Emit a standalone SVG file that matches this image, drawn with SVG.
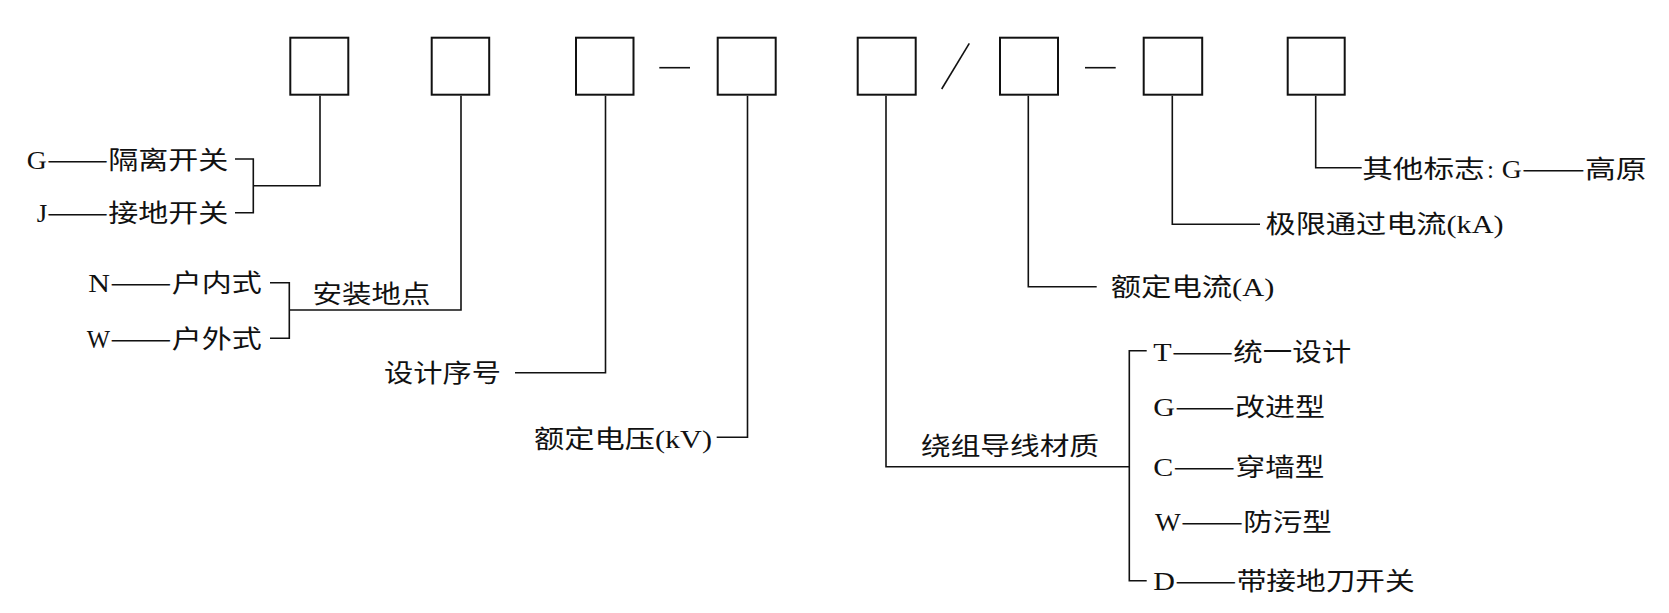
<svg xmlns="http://www.w3.org/2000/svg" width="1669" height="613" viewBox="0 0 1669 613">
<style>
.bg{fill:#ffffff}
.box{fill:#ffffff;stroke:#111;stroke-width:2}
.ln{fill:none;stroke:#111;stroke-width:1.6}
.t{font-family:"Liberation Serif","Noto Sans CJK SC",serif;font-size:25px;fill:#111}
.d{font-family:"Noto Sans CJK SC",sans-serif}
</style>
<rect class="bg" x="0" y="0" width="1669" height="613"/>
<g id="boxes">
<g id="box1"><rect class="box" x="290.3" y="37.7" width="58" height="57"/></g>
<g id="box2"><rect class="box" x="431.7" y="37.7" width="57.5" height="57"/></g>
<g id="box3"><rect class="box" x="576" y="37.7" width="57.5" height="57"/></g>
<g id="box4"><rect class="box" x="717.7" y="37.7" width="58" height="57"/></g>
<g id="box5"><rect class="box" x="857.7" y="37.7" width="58" height="57"/></g>
<g id="box6"><rect class="box" x="1000" y="37.7" width="58" height="57"/></g>
<g id="box7"><rect class="box" x="1143.7" y="37.7" width="58.5" height="57"/></g>
<g id="box8"><rect class="box" x="1287.7" y="37.7" width="57" height="57"/></g>
</g>
<g id="separators">
<path class="ln" d="M659.3 67.7H690"/>
<path class="ln" d="M941.7 89L969.3 43.3"/>
<path class="ln" d="M1085 67.7H1115.7"/>
</g>
<g id="connectors">
<path class="ln" d="M320 95.7V185.7H253.3"/>
<path class="ln" d="M235 159H253.3V212.7H235"/>
<path class="ln" d="M461 95.7V310H289.3"/>
<path class="ln" d="M270 282.7H289.3V338.3H270"/>
<path class="ln" d="M605.5 95.7V372.7H515"/>
<path class="ln" d="M747.5 95.7V437.3H716.7"/>
<path class="ln" d="M886 95.7V466.7H1129.3"/>
<path class="ln" d="M1146.7 350.7H1129.3V580.7H1146.7"/>
<path class="ln" d="M1028.3 95.7V286.7H1096.7"/>
<path class="ln" d="M1172.3 95.7V224.3H1260"/>
<path class="ln" d="M1315.7 95.7V167.7H1361.7"/>
</g>
<g id="label-type">
<text class="t" y="168.5"><tspan x="26.7" textLength="20" lengthAdjust="spacingAndGlyphs">G</tspan><tspan class="d" x="46.7" textLength="61.6" lengthAdjust="spacingAndGlyphs">——</tspan><tspan x="108.3" textLength="120" lengthAdjust="spacingAndGlyphs">隔离开关</tspan></text>
<text class="t" y="222.2"><tspan x="36.7" textLength="10.5" lengthAdjust="spacingAndGlyphs">J</tspan><tspan class="d" x="46.7" textLength="61.6" lengthAdjust="spacingAndGlyphs">——</tspan><tspan x="108.3" textLength="120" lengthAdjust="spacingAndGlyphs">接地开关</tspan></text>
</g>
<g id="label-place">
<text class="t" y="292.2"><tspan x="88.3" textLength="21.7" lengthAdjust="spacingAndGlyphs">N</tspan><tspan class="d" x="110" textLength="61.7" lengthAdjust="spacingAndGlyphs">——</tspan><tspan x="171.7" textLength="90" lengthAdjust="spacingAndGlyphs">户内式</tspan></text>
<text class="t" y="347.8"><tspan x="86.7" textLength="23.3" lengthAdjust="spacingAndGlyphs">W</tspan><tspan class="d" x="110" textLength="61.7" lengthAdjust="spacingAndGlyphs">——</tspan><tspan x="171.7" textLength="90" lengthAdjust="spacingAndGlyphs">户外式</tspan></text>
<text class="t" x="312.5" y="302.8" textLength="118" lengthAdjust="spacingAndGlyphs">安装地点</text>
</g>
<g id="label-design">
<text class="t" x="384" y="381.8" textLength="117" lengthAdjust="spacingAndGlyphs">设计序号</text>
</g>
<g id="label-voltage">
<text class="t" x="534" y="447.5" textLength="178" lengthAdjust="spacingAndGlyphs">额定电压(kV)</text>
</g>
<g id="label-material">
<text class="t" x="921" y="454.5" textLength="178" lengthAdjust="spacingAndGlyphs">绕组导线材质</text>
<text class="t" y="360.5"><tspan x="1153.3" textLength="18.4" lengthAdjust="spacingAndGlyphs">T</tspan><tspan class="d" x="1171.7" textLength="61.6" lengthAdjust="spacingAndGlyphs">——</tspan><tspan x="1233.3" textLength="118" lengthAdjust="spacingAndGlyphs">统一设计</tspan></text>
<text class="t" y="416"><tspan x="1153.3" textLength="21.7" lengthAdjust="spacingAndGlyphs">G</tspan><tspan class="d" x="1175" textLength="60" lengthAdjust="spacingAndGlyphs">——</tspan><tspan x="1235" textLength="90" lengthAdjust="spacingAndGlyphs">改进型</tspan></text>
<text class="t" y="475.5"><tspan x="1153.3" textLength="20" lengthAdjust="spacingAndGlyphs">C</tspan><tspan class="d" x="1173.3" textLength="62" lengthAdjust="spacingAndGlyphs">——</tspan><tspan x="1235.5" textLength="89" lengthAdjust="spacingAndGlyphs">穿墙型</tspan></text>
<text class="t" y="531"><tspan x="1155" textLength="25.7" lengthAdjust="spacingAndGlyphs">W</tspan><tspan class="d" x="1180.7" textLength="62.6" lengthAdjust="spacingAndGlyphs">——</tspan><tspan x="1243.3" textLength="88.5" lengthAdjust="spacingAndGlyphs">防污型</tspan></text>
<text class="t" y="590"><tspan x="1153.3" textLength="21.7" lengthAdjust="spacingAndGlyphs">D</tspan><tspan class="d" x="1175" textLength="61.7" lengthAdjust="spacingAndGlyphs">——</tspan><tspan x="1236.7" textLength="178" lengthAdjust="spacingAndGlyphs">带接地刀开关</tspan></text>
</g>
<g id="label-current">
<text class="t" x="1110.7" y="296" textLength="163.6" lengthAdjust="spacingAndGlyphs">额定电流(A)</text>
</g>
<g id="label-limit">
<text class="t" x="1265.5" y="232.5" textLength="238" lengthAdjust="spacingAndGlyphs">极限通过电流(kA)</text>
</g>
<g id="label-other">
<text class="t" y="177.8"><tspan x="1362.2" textLength="122.5" lengthAdjust="spacingAndGlyphs">其他标志</tspan><tspan x="1487">: </tspan><tspan x="1501.7" textLength="20" lengthAdjust="spacingAndGlyphs">G</tspan><tspan class="d" x="1521.7" textLength="63.3" lengthAdjust="spacingAndGlyphs">——</tspan><tspan x="1585" textLength="61.7" lengthAdjust="spacingAndGlyphs">高原</tspan></text>
</g>
</svg>
